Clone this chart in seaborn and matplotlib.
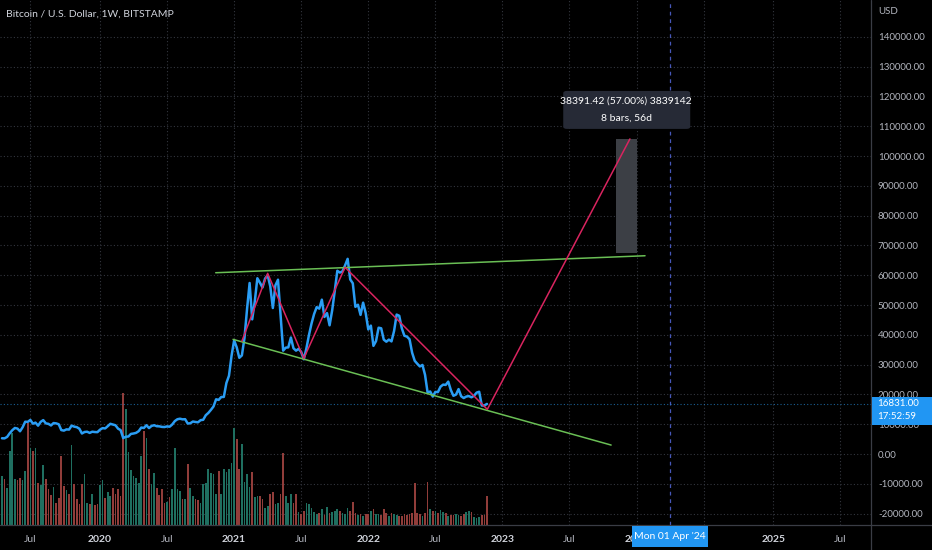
import pandas as pd
import matplotlib
matplotlib.use("Agg")
import matplotlib.pyplot as plt
import matplotlib.dates as mdates
from matplotlib.patches import Rectangle, FancyBboxPatch
from matplotlib.lines import Line2D
import seaborn as sns

# Weekly closes, BTC/USD (Bitstamp), first bar = week of 2019-04-15
closes_2019 = [5300, 5270, 5760, 6980, 8000, 8750, 8550, 7650, 8990, 10850,
               10800, 11450, 10200, 10550, 9530, 10800, 11390, 10300, 10140, 9600,
               10400, 10300, 10000, 8050, 7870, 8280, 8220, 9550, 9200, 9030,
               8500, 6900, 7400, 7500, 7100, 7500, 7390, 7350]
closes_2020 = [8180, 8700, 8600, 9350, 10150, 9900, 9660, 8530, 8040, 5370,
               5830, 5880, 6770, 6900, 7120, 7690, 8900, 8750, 9680, 8720,
               9450, 9670, 9340, 9300, 9120, 9070, 9280, 9180, 9930, 11060,
               11680, 11860, 11650, 11700, 10250, 10330, 10920, 10770, 10670, 11380,
               11500, 13030, 13800, 14830, 15960, 18370, 18180, 19150, 19170, 23860,
               26280, 33000]
closes_2021 = [38150, 35800, 32300, 33100, 38900, 48600, 57400, 45200, 51200, 59000,
               57500, 55900, 58900, 60000, 56300, 49000, 56600, 58500, 46400, 34700,
               35700, 35800, 39100, 35500, 34700, 35300, 34250, 31800, 35400, 39900,
               43800, 47000, 49300, 48800, 51800, 46000, 47300, 43200, 48200, 54700,
               61500, 60900, 61300, 63300, 65500, 58600, 57300, 49400, 50100, 46700,
               50800, 47300]
closes_2022 = [41800, 43100, 36300, 37900, 42400, 42200, 38400, 37700, 38400, 37800,
               41300, 46800, 46400, 42200, 39700, 39400, 38500, 34000, 31300, 30300,
               29400, 29900, 26600, 20600, 21000, 19300, 20850, 20800, 22600, 23300,
               23200, 24300, 21500, 19550, 19950, 21800, 19400, 18800, 19300, 19450,
               19050, 19550, 20620, 20900, 16300, 16280, 16831]
# weekly opens of the first and current bars (for volume colouring)
first_open = 5070
last_open = 16990

# Weekly volume (relative units)
volume = [49, 46, 37, 74, 92, 46, 45, 47, 45, 54,
          102, 77, 74, 77, 42, 40, 60, 46, 36, 30,
          38, 22, 27, 69, 39, 35, 31, 80, 41, 26,
          21, 41, 51, 22, 21, 31, 20, 21, 40, 45,
          27, 33, 29, 37, 31, 36, 29, 132,
          116, 73, 55, 49, 47, 42, 69, 94, 87, 56,
          41, 52, 37, 30, 36, 22, 23, 28, 36, 77,
          36, 34, 26, 26, 61, 37, 29, 26, 25,
          22, 41, 42, 56, 52, 51, 31, 54, 31, 56,
          53, 56, 62, 97, 86, 56, 81, 43, 51, 38,
          53, 28, 29, 29, 26, 17, 19, 31, 33, 21,
          22, 31, 72, 29, 22, 31, 22, 31, 13, 11,
          14, 22, 21, 17, 13, 11, 12, 16, 10,
          18, 12, 13, 14, 16, 14, 12, 11, 17, 14,
          23, 12, 10, 11, 9, 11, 11, 14, 16, 11,
          11, 10, 16, 12, 9, 12, 11, 10, 9, 9,
          11, 10, 11, 12, 42, 12, 11, 9, 12, 43,
          16, 14, 14, 12, 15, 13, 12, 9, 10, 10,
          11, 10, 9, 11, 13, 14, 13, 8, 7, 8,
          10, 10, 29]

# Drawings on the chart (anchor date, price)
upper_line = (["2020-11-15", "2024-01-24"], [60840, 66540])
lower_line = (["2021-01-01", "2023-10-24"], [38490, 3020])
zigzag = (["2021-01-25", "2021-04-05", "2021-07-12", "2021-11-01", "2022-11-22", "2023-12-14"],
          [37900, 60640, 32110, 62650, 15000, 105741])
measure_dates = ["2023-11-06", "2024-01-01"]
measure_prices = [67350, 105741]
measure_text = ["38391.42 (57.00%) 3839142", "8 bars, 56d"]
cursor_date = "2024-04-01"
cursor_label = "Mon 01 Apr '24"
last_label = ["16831.00", "17:52:59"]

tick_dates = ["2019-07-01", "2020-01-06", "2020-07-06", "2021-01-04", "2021-07-05",
              "2022-01-03", "2022-07-04", "2023-01-02", "2023-07-03", "2024-01-01",
              "2024-07-01", "2025-01-06", "2025-07-07"]
tick_labels = ["Jul", "2020", "Jul", "2021", "Jul", "2022", "Jul", "2023", "Jul",
               "2024", "Jul", "2025", "Jul"]
price_ticks = list(range(-20000, 140001, 10000))

closes = closes_2019 + closes_2020 + closes_2021 + closes_2022
dates = pd.date_range("2019-04-15", periods=len(closes), freq="7D")
xs = mdates.date2num(dates)
opens = [first_open] + closes[:-2] + [last_open]
vol_colors = ["#1f6f60" if c >= o else "#913d3a" for c, o in zip(closes, opens)]

sns.set_style("dark")
plt.rcParams["font.family"] = ["Lato", "DejaVu Sans"]

W, H = 932, 550
fig = plt.figure(figsize=(W / 100, H / 100), dpi=100, facecolor="black")
rect = [0, 25 / H, 871 / W, 525 / H]
ax = fig.add_axes(rect, facecolor="black")
axv = ax.twinx()
axp = ax.twinx()

# volume
axv.bar(xs, volume, width=4.6, color=vol_colors, linewidth=0)
axv.set_ylim(0, 525)
axv.set_axis_off()

# price
sns.lineplot(x=xs, y=closes, ax=axp, color="#2a9df4", linewidth=1.8, zorder=3)
axp.plot(mdates.date2num(pd.to_datetime(upper_line[0])), upper_line[1], color="#6abf55", lw=1.1, zorder=4)
axp.plot(mdates.date2num(pd.to_datetime(lower_line[0])), lower_line[1], color="#6abf55", lw=1.1, zorder=4)
axp.plot(mdates.date2num(pd.to_datetime(zigzag[0])), zigzag[1], color="#d9245f", lw=1.1, zorder=5)
m0, m1 = mdates.date2num(pd.to_datetime(measure_dates))
axp.add_patch(Rectangle((m0, measure_prices[0]), m1 - m0, measure_prices[1] - measure_prices[0],
                        facecolor="#3c3f45", edgecolor="none", zorder=2))
cx = mdates.date2num(pd.Timestamp(cursor_date))
axp.axvline(cx, color="#4657b8", ls=(0, (3, 3)), lw=0.9, zorder=2)
axp.axhline(closes[-1], color="#2a9df4", ls=(0, (1, 2)), lw=0.8, alpha=0.6, zorder=2)

ylim = (-23800, 152350)
origin = mdates.date2num(pd.Timestamp("2020-01-06"))
ppd = 134.6 / 365.25
xlim = (origin - 100 / ppd, origin + 771 / ppd)
for a in (ax, axp):
    a.set_ylim(*ylim)
ax.set_xlim(*xlim)
axp.set_axis_off()

# axes styling
ax.grid(True, color="#33363e", ls=(0, (1, 2)), lw=0.8)
ax.set_axisbelow(True)
for s in ax.spines.values():
    s.set_visible(False)
ax.yaxis.tick_right()
ax.set_yticks(price_ticks)
ax.set_yticklabels([f"{v:.2f}" for v in price_ticks])
ax.set_xticks(mdates.date2num(pd.to_datetime(tick_dates)))
ax.set_xticklabels(tick_labels)
ax.tick_params(axis="y", length=0, pad=5, labelsize=7, labelcolor="#b2b5be")
ax.tick_params(axis="x", length=0, pad=7, labelsize=7.5, labelcolor="#b2b5be")
for lab in ax.get_xticklabels():
    if lab.get_text() != "Jul":
        lab.set_color("#d1d4dc")
        lab.set_fontweight("bold")
ax.set_xlabel("")
ax.set_ylabel("")

# frame lines of price / time scales
fig.add_artist(Line2D([0, 1], [25 / H, 25 / H], color="#3a3d45", lw=0.9))
fig.add_artist(Line2D([871 / W, 871 / W], [0, 1], color="#3a3d45", lw=0.9))

fig.text(6 / W, 1 - 14 / H, "Bitcoin / U.S. Dollar, 1W, BITSTAMP", color="#d1d4dc",
         fontsize=7.5, va="center", ha="left")
fig.text(878 / W, 1 - 11 / H, "USD", color="#b2b5be", fontsize=7, va="center")

# last price label on the price scale
py = axp.transData.transform((xlim[0], closes[-1]))[1] / H
fig.add_artist(Rectangle((872 / W, py - 21 / H), 60 / W, 28 / H, transform=fig.transFigure,
                         facecolor="#2196f3", edgecolor="none", zorder=5))
fig.text(877 / W, py, last_label[0], color="white", fontsize=7, va="center", zorder=6)
fig.text(877 / W, py - 13 / H, last_label[1], color="white", fontsize=7, va="center", zorder=6)

# cursor date label on the time scale
cxf = axp.transData.transform((cx, 0))[0] / W
fig.add_artist(Rectangle((cxf - 38 / W, 3 / H), 76 / W, 21 / H, transform=fig.transFigure,
                         facecolor="#2196f3", edgecolor="none", zorder=5))
fig.text(cxf, 13.5 / H, cursor_label, color="white", fontsize=7.5, ha="center", va="center", zorder=6)

# measurement tooltip
tx, ty = axp.transData.transform(((m0 + m1) / 2, measure_prices[1]))
fig.add_artist(FancyBboxPatch(((tx - 63) / W, (ty + 10) / H), 127 / W, 38 / H,
                              boxstyle="round,pad=0,rounding_size=0.004",
                              transform=fig.transFigure, facecolor="#262a36",
                              edgecolor="none", zorder=5))
fig.text(tx / W, (ty + 38) / H, measure_text[0], color="white", fontsize=7.5,
         ha="center", va="center", zorder=6)
fig.text(tx / W, (ty + 21) / H, measure_text[1], color="white", fontsize=7.5,
         ha="center", va="center", zorder=6)

fig.savefig("out.png", dpi=100, facecolor="black")
